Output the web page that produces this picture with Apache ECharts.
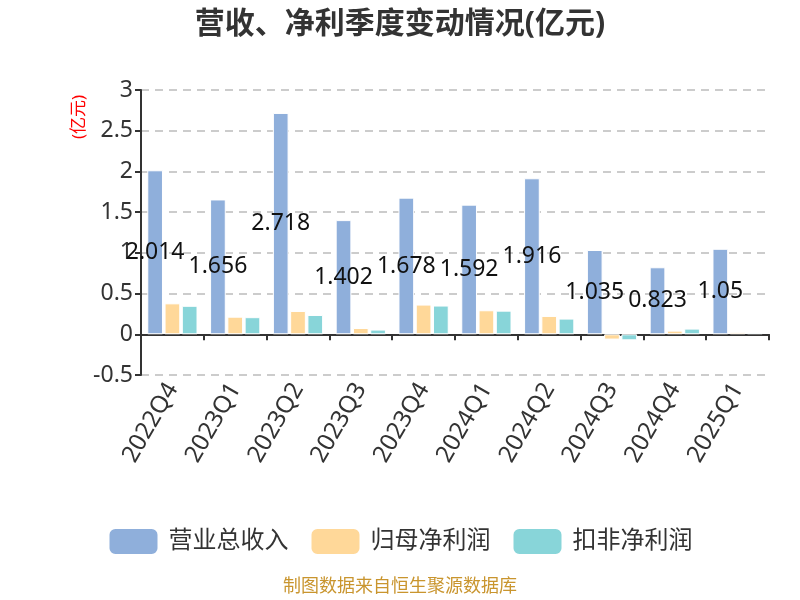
<!DOCTYPE html>
<html><head><meta charset="utf-8">
<script src="https://cdn.jsdelivr.net/npm/echarts@6/dist/echarts.min.js"></script>
<style>html,body{margin:0;padding:0;background:#fff}#c{width:800px;height:600px}</style>
</head><body><div id="c"></div>
<script>
const categories = ['2022Q4','2023Q1','2023Q2','2023Q3','2023Q4','2024Q1','2024Q2','2024Q3','2024Q4','2025Q1'];
const revenue = [2.014,1.656,2.718,1.402,1.678,1.592,1.916,1.035,0.823,1.05];
const netProfit = [0.38,0.216,0.286,0.077,0.365,0.295,0.225,-0.065,0.045,0.025];
const deductedProfit = [0.35,0.21,0.237,0.058,0.353,0.29,0.193,-0.074,0.07,0.02];
const seriesNames = ['营业总收入','归母净利润','扣非净利润'];
const yTicks = {min:-0.5,max:3,interval:0.5};
const font = '"Noto Sans","Noto Sans CJK SC",sans-serif';
const chart = echarts.init(document.getElementById('c'), null, {renderer:'canvas'});
chart.setOption({
  animation:false,
  textStyle:{fontFamily:font},
  title:{text:'营收、净利季度变动情况(亿元)',left:'center',top:4,textStyle:{fontSize:30,fontWeight:'bold',color:'#333',fontFamily:font}},
  legend:{top:522,left:'center',itemWidth:50,itemHeight:27,itemGap:21,
    textStyle:{fontSize:24,color:'#333',padding:[0,0,0,5]},data:seriesNames},
  graphic:[
    {type:'text',left:'center',top:578,style:{text:'制图数据来自恒生聚源数据库',fontSize:18,fill:'#c9952e',fontFamily:font}},
    {type:'text',x:79,y:139,rotation:Math.PI/2,style:{text:'(亿元)',fontSize:17,fill:'#ff0000',fontFamily:font,align:'left',verticalAlign:'middle'}}
  ],
  grid:{left:141,right:31,top:90,bottom:225,containLabel:false},
  xAxis:{type:'category',data:categories,
    axisLine:{onZero:true,lineStyle:{color:'#333',width:2}},
    axisTick:{show:true,length:6,lineStyle:{color:'#333',width:2}},
    axisLabel:{rotate:60,fontSize:24,color:'#333',margin:10,interval:0}},
  yAxis:{type:'value',min:yTicks.min,max:yTicks.max,interval:yTicks.interval,
    axisLine:{show:true,lineStyle:{color:'#333',width:2}},
    axisTick:{show:true,length:6,lineStyle:{color:'#333',width:2}},
    axisLabel:{fontSize:23,color:'#333',margin:8},
    splitLine:{lineStyle:{type:[8,6],color:'#ccc',width:2}}},
  series:[
    {name:seriesNames[0],type:'bar',data:revenue,barGap:'10%',barCategoryGap:'20%',
     itemStyle:{color:'#8fafdb',borderColor:'#fff',borderWidth:1},
     label:{show:true,position:'inside',color:'#111',fontSize:23,formatter:p=>String(p.value)}},
    {name:seriesNames[1],type:'bar',data:netProfit,barGap:'10%',barCategoryGap:'20%',
     itemStyle:{color:'#ffd899',borderColor:'#fff',borderWidth:1}},
    {name:seriesNames[2],type:'bar',data:deductedProfit,barGap:'10%',barCategoryGap:'20%',
     itemStyle:{color:'#88d5d9',borderColor:'#fff',borderWidth:1}}
  ]
});
</script></body></html>
